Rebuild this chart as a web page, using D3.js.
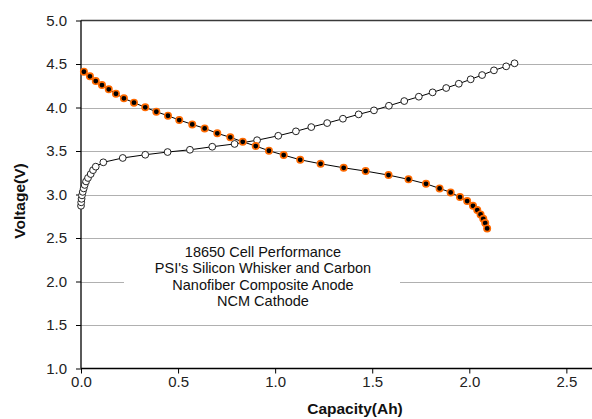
<!DOCTYPE html>
<html>
<head>
<meta charset="utf-8">
<script src="https://cdn.jsdelivr.net/npm/d3@7"></script>
<style>
  body { margin: 0; background: #fff; }
  svg { display: block; font-family: "Liberation Sans", Arial, sans-serif; }
</style>
</head>
<body>
<svg id="chart" width="592" height="419"></svg>
<script>
// ---- data ----
const chargeCap = [0.000, 0.001, 0.003, 0.005, 0.009, 0.014, 0.019, 0.026, 0.036, 0.050, 0.062, 0.076, 0.115, 0.215, 0.331, 0.446, 0.561, 0.676, 0.791, 0.907, 1.016, 1.107, 1.186, 1.268, 1.349, 1.430, 1.509, 1.586, 1.665, 1.740, 1.811, 1.881, 1.946, 2.007, 2.066, 2.127, 2.190, 2.233];
const chargeV   = [2.87, 2.91, 2.95, 2.99, 3.03, 3.07, 3.11, 3.15, 3.19, 3.235, 3.28, 3.32, 3.37, 3.42, 3.457, 3.488, 3.514, 3.549, 3.581, 3.624, 3.675, 3.726, 3.775, 3.821, 3.871, 3.921, 3.967, 4.02, 4.074, 4.124, 4.174, 4.224, 4.273, 4.324, 4.373, 4.427, 4.473, 4.508];
const dischargeCap = [0.015, 0.046, 0.076, 0.108, 0.143, 0.180, 0.221, 0.273, 0.331, 0.388, 0.448, 0.506, 0.573, 0.637, 0.702, 0.769, 0.833, 0.900, 0.968, 1.044, 1.129, 1.234, 1.353, 1.466, 1.584, 1.687, 1.777, 1.847, 1.904, 1.952, 1.989, 2.019, 2.041, 2.058, 2.072, 2.082, 2.092];
const dischargeV   = [4.411, 4.358, 4.304, 4.258, 4.209, 4.158, 4.105, 4.055, 4.002, 3.951, 3.905, 3.856, 3.806, 3.760, 3.703, 3.657, 3.606, 3.557, 3.503, 3.453, 3.399, 3.353, 3.307, 3.269, 3.223, 3.174, 3.123, 3.070, 3.024, 2.970, 2.924, 2.870, 2.821, 2.771, 2.720, 2.671, 2.610];
const xTicks = [0.0, 0.5, 1.0, 1.5, 2.0, 2.5];
const yTicks = [1.0, 1.5, 2.0, 2.5, 3.0, 3.5, 4.0, 4.5, 5.0];
const xLabel = "Capacity(Ah)";
const yLabel = "Voltage(V)";
const noteLines = ["18650 Cell Performance", "PSI's Silicon Whisker and Carbon", "Nanofiber Composite Anode", "NCM Cathode"];

(function () {
// ---- layout ----
const svg = d3.select("#chart");
const pL = 81, pR = 592, pT = 20.5, pB = 368.5;
const x = d3.scaleLinear().domain([0, 2.632]).range([pL, pR]);
const y = d3.scaleLinear().domain([1, 5]).range([pB, pT]);

// gridlines
svg.append("g").selectAll("line")
  .data(yTicks.filter(d => d > 1 && d < 5))
  .join("line")
  .attr("x1", pL).attr("x2", pR)
  .attr("y1", d => Math.round(y(d)) + 0.5).attr("y2", d => Math.round(y(d)) + 0.5)
  .attr("stroke", "#b0b0b0").attr("stroke-width", 1.2);

// top border line at 5.0
svg.append("line")
  .attr("x1", pL).attr("x2", pR)
  .attr("y1", y(5)).attr("y2", y(5))
  .attr("stroke", "#3a3a3a").attr("stroke-width", 1.3);

// annotation background
svg.append("rect")
  .attr("x", 124).attr("y", 241).attr("width", 276).attr("height", 68)
  .attr("fill", "#fff");

// axes
const yAxis = d3.axisLeft(y).tickValues(yTicks).tickFormat(d3.format(".1f")).tickSize(5).tickPadding(9);
const gy = svg.append("g").attr("transform", `translate(${pL},0)`).call(yAxis);
const xAxis = d3.axisBottom(x).tickValues(xTicks).tickFormat(d3.format(".1f")).tickSize(5).tickPadding(3);
const gx = svg.append("g").attr("transform", `translate(0,${pB})`).call(xAxis);
[gx, gy].forEach(g => {
  g.selectAll("text").attr("font-size", 15).attr("fill", "#222").attr("font-family", '"Liberation Sans", Arial, sans-serif');
  g.selectAll("line").attr("stroke", "#000");
  g.select(".domain").attr("stroke", "#000").attr("stroke-width", 1.3);
});
gy.select(".domain").attr("d", `M0,${pT}V${pB}`);
gx.select(".domain").attr("d", `M${pL},0H${pR}`);

// axis labels
svg.append("text")
  .attr("x", 355).attr("y", 414)
  .attr("text-anchor", "middle").attr("font-weight", "bold").attr("font-size", 15.5)
  .attr("fill", "#111")
  .text(xLabel);
svg.append("text")
  .attr("transform", "translate(25,201) rotate(-90)")
  .attr("text-anchor", "middle").attr("font-weight", "bold").attr("font-size", 15.5)
  .attr("fill", "#111")
  .text(yLabel);

// annotation text
svg.append("g").selectAll("text")
  .data(noteLines)
  .join("text")
  .attr("x", 263)
  .attr("y", (d, i) => 257 + i * 16.4)
  .attr("text-anchor", "middle")
  .attr("font-size", 14.5)
  .attr("fill", "#111")
  .text(d => d);

// series
const charge = chargeCap.map((c, i) => [c, chargeV[i]]);
const discharge = dischargeCap.map((c, i) => [c, dischargeV[i]]);
const line = d3.line().x(d => x(d[0])).y(d => y(d[1]));

svg.append("path").datum(charge)
  .attr("d", line).attr("fill", "none").attr("stroke", "#000").attr("stroke-width", 1);
svg.append("g").selectAll("circle")
  .data(charge).join("circle")
  .attr("cx", d => x(d[0])).attr("cy", d => y(d[1]))
  .attr("r", 3.4)
  .attr("fill", "#fff").attr("stroke", "#222").attr("stroke-width", 1);

svg.append("path").datum(discharge)
  .attr("d", line).attr("fill", "none").attr("stroke", "#000").attr("stroke-width", 1);
svg.append("g").selectAll("circle")
  .data(discharge).join("circle")
  .attr("cx", d => x(d[0])).attr("cy", d => y(d[1]))
  .attr("r", 3.2)
  .attr("fill", "#000").attr("stroke", "#ff6a00").attr("stroke-width", 1.6);
})();
</script>
</body>
</html>
